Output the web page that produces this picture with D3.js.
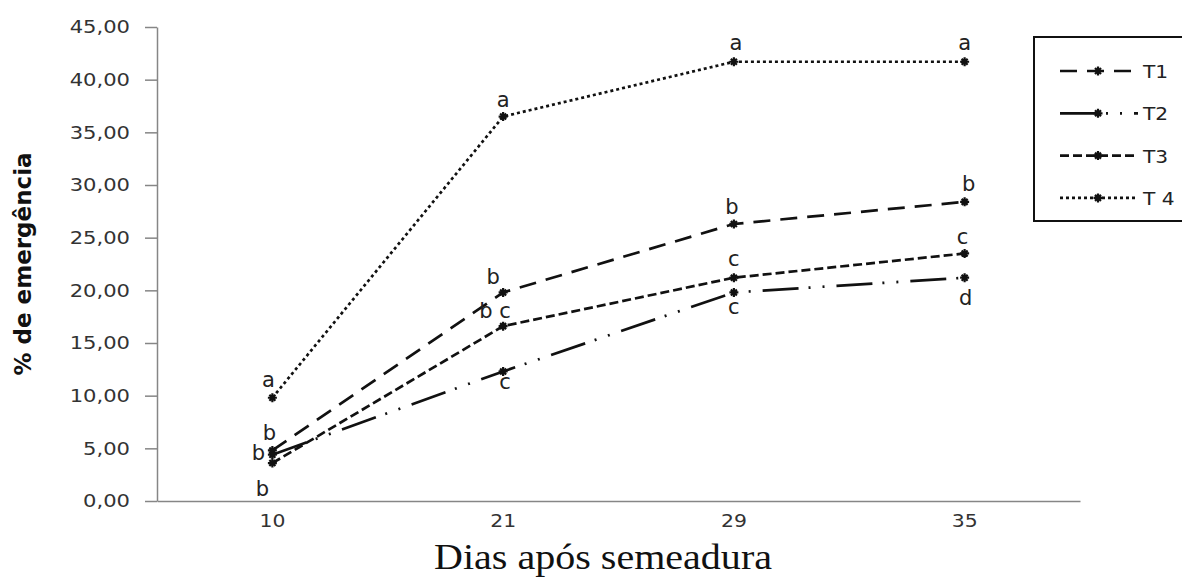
<!DOCTYPE html>
<html>
<head>
<meta charset="utf-8">
<script src="https://cdn.jsdelivr.net/npm/d3@7"></script>
<style>
  body { margin: 0; background: #fff; }
  text { font-family: Verdana, 'DejaVu Sans', sans-serif; }
</style>
</head>
<body>
<div id="root"></div>
<script>
const width = 1182;
const height = 579;
const margin = { top: 27, right: 102, bottom: 78, left: 157 };

const days = ['10', '21', '29', '35'];
const seriesNames = ['T1', 'T2', 'T3', 'T 4'];

const t1 = [4.8, 19.8, 26.3, 28.4];
const t2 = [4.4, 12.3, 19.8, 21.2];
const t3 = [3.6, 16.6, 21.2, 23.5];
const t4 = [9.8, 36.5, 41.7, 41.7];

const t1Letters = ['b', 'b', 'b', 'b'];
const t2Letters = ['b', 'c', 'c', 'd'];
const t3Letters = ['b', 'b c', 'c', 'c'];
const t4Letters = ['a', 'a', 'a', 'a'];

const yTicks = [0, 5, 10, 15, 20, 25, 30, 35, 40, 45];

// line looks, same order as seriesNames
const dashes = ['17,10', '36,10,2,12,2,12', '9,4', '3,3'];
// where each letter sits relative to its point (baseline offsets)
const letterOffsets = [
  [[-3, -10], [-10, -8], [-2, -10], [4, -11]],
  [[-14, 5], [2, 18], [0, 22], [1, 27]],
  [[-10, 33], [-8, -8], [0, -12], [-2, -9]],
  [[-4, -11], [0, -10], [2, -12], [0, -12]],
];

const series = [t1, t2, t3, t4].map((values, i) => ({
  name: seriesNames[i],
  dash: dashes[i],
  points: values.map((v, j) => ({ day: days[j], value: v })),
  letters: [t1Letters, t2Letters, t3Letters, t4Letters][i],
  offsets: letterOffsets[i],
}));

// the original is a bit wider than the fonts here
function stretch(sel, k) {
  sel.each(function () {
    const w = this.getComputedTextLength();
    d3.select(this).attr('textLength', w * k).attr('lengthAdjust', 'spacingAndGlyphs');
  });
}

const svg = d3
  .select('#root')
  .append('svg')
  .attr('width', width)
  .attr('height', height);

// Scales

const xScale = d3
  .scaleBand()
  .domain(days)
  .range([margin.left, width - margin.right]);

const yScale = d3
  .scaleLinear()
  .domain([0, 45])
  .range([height - margin.bottom, margin.top]);

const xMid = (d) => xScale(d) + xScale.bandwidth() / 2;

// Axes

const yAxis = d3
  .axisLeft(yScale)
  .tickValues(yTicks)
  .tickSize(12)
  .tickSizeOuter(0)
  .tickPadding(15)
  .tickFormat((d) => d.toFixed(2).replace('.', ','));

const gy = svg
  .append('g')
  .attr('transform', `translate(${margin.left}, 0)`)
  .call(yAxis);

gy.attr('font-size', null).attr('font-family', null);
gy.selectAll('path, line').attr('stroke', '#868686').attr('stroke-width', 1.5);
gy.selectAll('text').style('font-size', '18.5px').attr('fill', '#333');
stretch(gy.selectAll('text'), 1.14);

const xAxis = d3.axisBottom(xScale).tickSize(0).tickSizeOuter(0).tickPadding(13);

const gx = svg
  .append('g')
  .attr('transform', `translate(0, ${height - margin.bottom})`)
  .call(xAxis);

gx.attr('font-size', null).attr('font-family', null);
gx.select('path').attr('stroke', '#868686').attr('stroke-width', 1.5);
gx.selectAll('text').style('font-size', '18.5px').attr('fill', '#333');
stretch(gx.selectAll('text'), 1.1);

// Axis titles

svg
  .append('text')
  .attr('transform', `translate(31, ${yScale(22.5)}) rotate(-90)`)
  .attr('text-anchor', 'middle')
  .style('font-size', '23px')
  .attr('font-weight', 'bold')
  .attr('fill', '#111')
  .text('% de emergência');

svg
  .append('text')
  .attr('x', 603)
  .attr('y', 569)
  .attr('text-anchor', 'middle')
  .style('font-family', "'Liberation Serif', 'Times New Roman', serif")
  .style('font-size', '35px')
  .attr('textLength', 338)
  .attr('lengthAdjust', 'spacingAndGlyphs')
  .attr('fill', '#111')
  .text('Dias após semeadura');

// Lines

const line = d3
  .line()
  .x((d) => xMid(d.day))
  .y((d) => yScale(d.value));

const star = 'M-4.5,0L4.5,0M0,-4.5L0,4.5M-3,-3L3,3M-3,3L3,-3';

const group = svg.selectAll('g.series').data(series).enter().append('g').attr('class', 'series');

group
  .append('path')
  .attr('d', (d) => line(d.points))
  .attr('fill', 'none')
  .attr('stroke', '#111')
  .attr('stroke-width', 2.7)
  .attr('stroke-dasharray', (d) => d.dash);

group
  .selectAll('path.mark')
  .data((d) => d.points)
  .enter()
  .append('path')
  .attr('class', 'mark')
  .attr('d', star)
  .attr('transform', (d) => `translate(${xMid(d.day)}, ${yScale(d.value)})`)
  .attr('stroke', '#111')
  .attr('stroke-width', 2.2);

// Letters

group.each(function (s) {
  d3.select(this)
    .selectAll('text.letter')
    .data(s.points)
    .enter()
    .append('text')
    .attr('class', 'letter')
    .attr('x', (d, i) => xMid(d.day) + s.offsets[i][0])
    .attr('y', (d, i) => yScale(d.value) + s.offsets[i][1])
    .attr('text-anchor', 'middle')
    .style('font-size', '21px')
    .attr('fill', '#222')
    .text((d, i) => s.letters[i]);
});

// Legend

const legend = svg.append('g').attr('transform', 'translate(1034, 37)');

legend
  .append('rect')
  .attr('width', 160)
  .attr('height', 184)
  .attr('fill', '#fff')
  .attr('stroke', '#111')
  .attr('stroke-width', 2);

const item = legend
  .selectAll('g.item')
  .data(series)
  .enter()
  .append('g')
  .attr('class', 'item')
  .attr('transform', (d, i) => `translate(0, ${34 + i * 42.3})`);

item
  .append('line')
  .attr('x1', 26)
  .attr('x2', 104)
  .attr('stroke', '#111')
  .attr('stroke-width', 2.7)
  .attr('stroke-dasharray', (d) => d.dash);

item
  .append('path')
  .attr('d', star)
  .attr('transform', 'translate(64, 0)')
  .attr('stroke', '#111')
  .attr('stroke-width', 2.2);

item
  .append('text')
  .attr('x', 109)
  .attr('y', 7)
  .style('font-size', '18px')
  .attr('fill', '#222')
  .text((d) => d.name);

stretch(item.selectAll('text'), 1.12);
</script>
</body>
</html>
